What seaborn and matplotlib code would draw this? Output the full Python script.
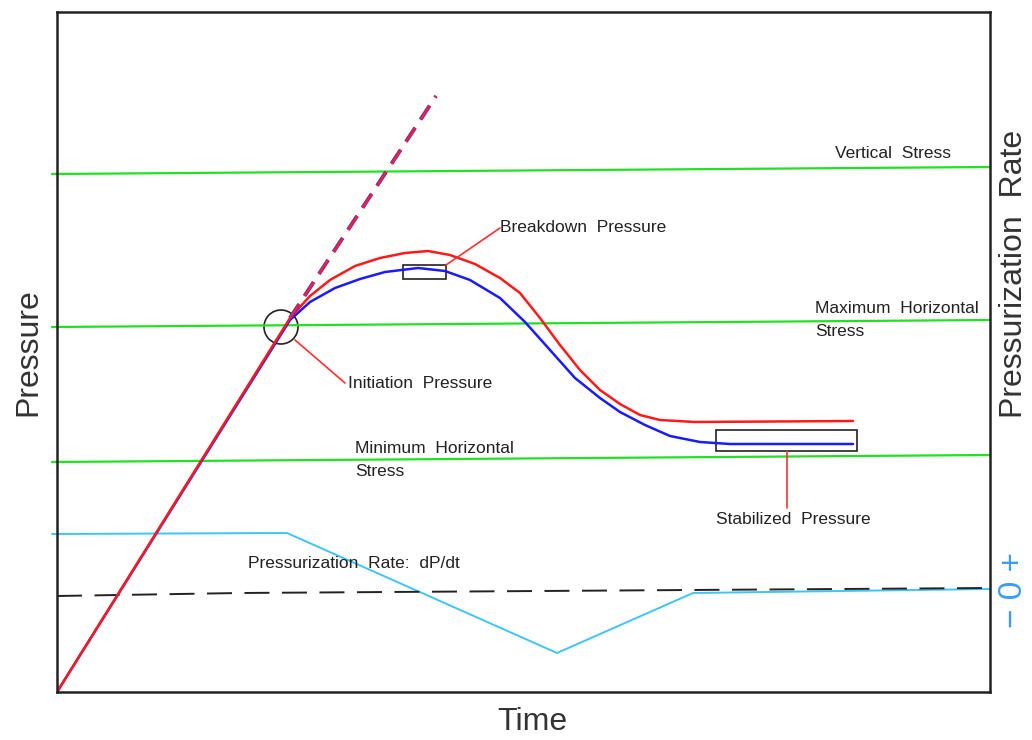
import matplotlib
matplotlib.use("Agg")
import matplotlib.pyplot as plt
import seaborn as sns
import pandas as pd
from matplotlib.patches import Circle, Rectangle

# schematic values (time / pressure in arbitrary units)
red_t = [0, 233, 253, 273, 298, 323, 348, 371, 393, 418, 443, 463, 483, 503, 523, 543, 563, 583, 603, 638, 796]
red_p = [0, 374, 396, 412, 426, 434, 439, 441, 437, 428, 414, 399, 374, 347, 322, 302, 288, 277, 272, 270, 271]
blue_t = [0, 233, 253, 278, 303, 328, 361, 388, 413, 443, 468, 493, 518, 543, 563, 588, 613, 643, 673, 796]
blue_p = [0, 372, 390, 404, 413, 420, 424, 421, 412, 394, 370, 342, 314, 294, 280, 267, 256, 250, 248, 248]
extrap_t = [233, 379]
extrap_p = [374, 596]

stress_t = [-5, 933]
vertical_p = [518, 525]
max_horiz_p = [365, 372]
min_horiz_p = [230, 237]

rate_t = [-5, 230, 500, 636, 933]
rate_p = [158, 159, 39, 99, 103]
zero_t = [0, 183, 933]
zero_p = [96, 99, 104]

W, H = 1032, 740
fig = plt.figure(figsize=(W / 100, H / 100), dpi=100)
sns.set_theme(style="white")
plt.rcParams['font.family'] = ['Liberation Sans', 'DejaVu Sans']
plt.rcParams['lines.scale_dashes'] = False
ax = fig.add_axes([57 / W, 48 / H, 933 / W, 680 / H])


def line(t, p, color, lw=1.6, dashes=None, clip=True):
    df = pd.DataFrame({"t": t, "p": p})
    sns.lineplot(data=df, x="t", y="p", ax=ax, color=color, lw=lw, sort=False,
                 estimator=None)
    ln = ax.lines[-1]
    if dashes:
        ln.set_dashes(dashes)
    ln.set_clip_on(clip)
    return ln


green = "#22e022"
for sp in (vertical_p, max_horiz_p, min_horiz_p):
    line(stress_t, sp, green, lw=1.6, clip=False)

line(rate_t, rate_p, "#3ec6f2", lw=1.4, clip=False)
line(zero_t, zero_p, "#222222", lw=1.4, dashes=(18, 9))

line(blue_t, blue_p, "#1a1aff", lw=1.8)
line(red_t, red_p, "#ff1a1a", lw=1.8)
line(extrap_t, extrap_p, "#3030ff", lw=2.8, dashes=(12, 7))
line(extrap_t, extrap_p, "#ff2020", lw=1.8, dashes=(12, 7))

# annotations
ax.add_patch(Circle((224, 365), 17, fill=False, ec="#222222", lw=1.2))
ax.add_patch(Rectangle((346, 413), 43, 14, fill=False, ec="#222222", lw=1.2))
ax.add_patch(Rectangle((659, 241), 141, 21, fill=False, ec="#222222", lw=1.2))
line([389, 443], [427, 464], "#ff3030", lw=1.2)
line([238, 288], [352, 309], "#ff3030", lw=1.2)
line([730, 730], [241, 184], "#ff3030", lw=1.2)

fs = 12.5
tk = dict(fontsize=fs, color="#222222", va="center", ha="left")
ax.text(443, 465, "Breakdown  Pressure", **tk)
ax.text(291, 309, "Initiation  Pressure", **tk)
ax.text(659, 173, "Stabilized  Pressure", **tk)
ax.text(778, 539, "Vertical  Stress", **tk)
ax.text(758, 372, "Maximum  Horizontal\nStress", linespacing=1.6, **tk)
ax.text(298, 232, "Minimum  Horizontal\nStress", linespacing=1.6, **tk)
ax.text(191, 129, "Pressurization  Rate:  dP/dt", **tk)

ax.set_xlim(0, 933)
ax.set_ylim(0, 680)
ax.set_xticks([])
ax.set_yticks([])
ax.set_xlabel("")
ax.set_ylabel("")
for s in ax.spines.values():
    s.set_color("#222222")
    s.set_linewidth(1.8)

lab = dict(fontsize=23, color="#333333", ha="center", va="center")
fig.text(28 / W, 1 - 352 / H, "Pressure", rotation=90, **lab)
fig.text(532 / W, 1 - 722 / H, "Time", **lab)
fig.text(1014 / W, 1 - 274 / H, "Pressurization  Rate", rotation=90, **lab)
fig.text(1014 / W, 1 - 590 / H, "\u2212 0 +", rotation=90, fontsize=24,
         color="#3b9cf5", ha="center", va="center")

fig.savefig("out.png", dpi=100)
